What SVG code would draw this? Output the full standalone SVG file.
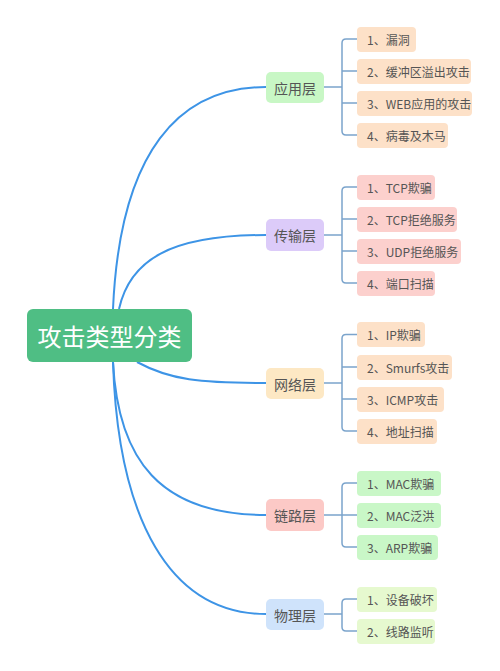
<svg xmlns="http://www.w3.org/2000/svg" width="500" height="671" viewBox="0 0 500 671">
<style>
text{font-family:"Noto Sans CJK SC","Noto Sans",sans-serif;fill:#555;dominant-baseline:central}
.leaf text{font-size:12px}
.layer text{font-size:14px;text-anchor:middle}
.main{fill:none;stroke:#3d94e6;stroke-width:2}
.br{fill:none;stroke:#7ba4cc;stroke-width:1.5}
.a{fill:#fde1c8}.t{fill:#fcd0cd}.g{fill:#c9f7c7}.p{fill:#e6f9cf}
</style>
<rect width="500" height="671" fill="#fff"/>
<g id="connectors">
<path class="main" d="M113,309 C120,150 180,87 266,87"/>
<path class="main" d="M119,309 C130,260 170,235 266,235"/>
<path class="main" d="M137,362 C170,380 200,383 266,383"/>
<path class="main" d="M113,362 C118,460 160,515 266,515"/>
<path class="main" d="M113,362 C118,520 170,614 266,614"/>
<path class="br" d="M324,87 H342 M342,43 V131 M342,43 Q342,39 346,39 H357 M342,71 H357 M342,103 H357 M342,131 Q342,135 346,135 H357"/>
<path class="br" d="M324,235 H342 M342,191 V279 M342,191 Q342,187 346,187 H357 M342,219 H357 M342,251 H357 M342,279 Q342,283 346,283 H357"/>
<path class="br" d="M324,383 H342 M342,338.5 V427 M342,338.5 Q342,334.5 346,334.5 H357 M342,367 H357 M342,399 H357 M342,427 Q342,431 346,431 H357"/>
<path class="br" d="M324,515 H342 M342,487 V543 M342,487 Q342,483 346,483 H357 M342,515 H357 M342,543 Q342,547 346,547 H357"/>
<path class="br" d="M324,614 H342 M342,603 V627 M342,603 Q342,599 346,599 H357 M342,627 Q342,631 346,631 H357"/>
</g>
<g id="root">
<rect x="27" y="309" width="165" height="53" rx="6" fill="#4fbe84"/>
<text x="109.5" y="335.5" style="font-size:24px;fill:#fff;text-anchor:middle">攻击类型分类</text>
</g>
<g id="layer-app" class="layer"><rect x="266" y="72" width="58" height="31" rx="5" fill="#c8f7c5"/><text x="295" y="87.5">应用层</text></g>
<g id="layer-trans" class="layer"><rect x="266" y="219" width="58" height="32" rx="5" fill="#dccbf9"/><text x="295" y="235">传输层</text></g>
<g id="layer-net" class="layer"><rect x="266" y="368" width="58" height="31" rx="5" fill="#fde8c4"/><text x="295" y="383.5">网络层</text></g>
<g id="layer-link" class="layer"><rect x="266" y="499" width="58" height="32" rx="5" fill="#fcc9c6"/><text x="295" y="515">链路层</text></g>
<g id="layer-phy" class="layer"><rect x="266" y="599" width="58" height="31" rx="5" fill="#cfe3fb"/><text x="295" y="614.5">物理层</text></g>

<g id="app1" class="leaf"><rect class="a" x="357" y="27" width="59" height="25" rx="4"/><text x="367" y="39.5">1、漏洞</text></g>
<g id="app2" class="leaf"><rect class="a" x="357" y="59" width="114" height="25" rx="4"/><text x="367" y="71.5">2、缓冲区溢出攻击</text></g>
<g id="app3" class="leaf"><rect class="a" x="357" y="91" width="115" height="25" rx="4"/><text x="367" y="103.5">3、WEB应用的攻击</text></g>
<g id="app4" class="leaf"><rect class="a" x="357" y="123" width="91" height="25" rx="4"/><text x="367" y="135.5">4、病毒及木马</text></g>

<g id="tr1" class="leaf"><rect class="t" x="357" y="175" width="78" height="25" rx="4"/><text x="367" y="187.5">1、TCP欺骗</text></g>
<g id="tr2" class="leaf"><rect class="t" x="357" y="207" width="100" height="25" rx="4"/><text x="367" y="219.5">2、TCP拒绝服务</text></g>
<g id="tr3" class="leaf"><rect class="t" x="357" y="239" width="104" height="25" rx="4"/><text x="367" y="251.5">3、UDP拒绝服务</text></g>
<g id="tr4" class="leaf"><rect class="t" x="357" y="271" width="78" height="25" rx="4"/><text x="367" y="283.5">4、端口扫描</text></g>

<g id="net1" class="leaf"><rect class="a" x="357" y="322" width="68" height="25" rx="4"/><text x="367" y="334.5">1、IP欺骗</text></g>
<g id="net2" class="leaf"><rect class="a" x="357" y="355" width="95" height="25" rx="4"/><text x="367" y="367.5">2、Smurfs攻击</text></g>
<g id="net3" class="leaf"><rect class="a" x="357" y="387" width="87" height="25" rx="4"/><text x="367" y="399.5">3、ICMP攻击</text></g>
<g id="net4" class="leaf"><rect class="a" x="357" y="419" width="80" height="25" rx="4"/><text x="367" y="431.5">4、地址扫描</text></g>

<g id="link1" class="leaf"><rect class="g" x="357" y="471" width="84" height="25" rx="4"/><text x="367" y="483.5">1、MAC欺骗</text></g>
<g id="link2" class="leaf"><rect class="g" x="357" y="503" width="84" height="25" rx="4"/><text x="367" y="515.5">2、MAC泛洪</text></g>
<g id="link3" class="leaf"><rect class="g" x="357" y="535" width="81" height="25" rx="4"/><text x="367" y="547.5">3、ARP欺骗</text></g>

<g id="phy1" class="leaf"><rect class="p" x="357" y="587" width="80" height="25" rx="4"/><text x="367" y="599.5">1、设备破坏</text></g>
<g id="phy2" class="leaf"><rect class="p" x="357" y="619" width="78" height="25" rx="4"/><text x="367" y="631.5">2、线路监听</text></g>
</svg>
